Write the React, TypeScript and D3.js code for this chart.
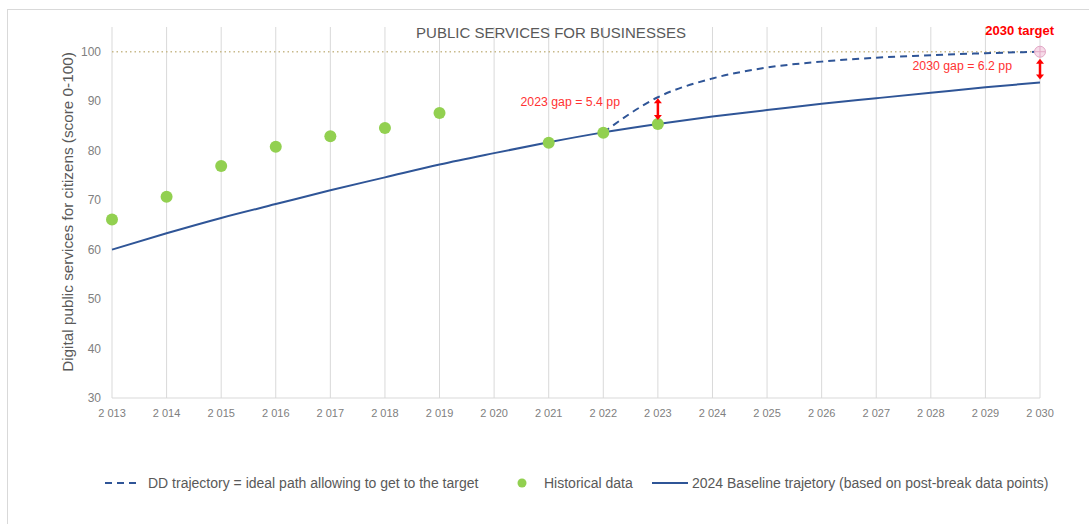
import React from "react";
import * as d3 from "d3";

const years = d3.range(2013, 2031);
const histYears = [2013, 2014, 2015, 2016, 2017, 2018, 2019, 2021, 2022, 2023];
const histValues = [66.1, 70.7, 76.9, 80.8, 82.9, 84.6, 87.6, 81.6, 83.6, 85.4];
const baselineValues = [60, 63.3, 66.4, 69.2, 72.0, 74.6, 77.2, 79.5, 81.7, 83.7, 85.4, 86.9, 88.2, 89.5, 90.6, 91.7, 92.8, 93.8];
const ddYears = [2022, 2023, 2024, 2025, 2026, 2027, 2028, 2029, 2030];
const ddValues = [83.7, 90.8, 94.6, 96.8, 98.0, 98.8, 99.3, 99.7, 100];
const yTicks = [30, 40, 50, 60, 70, 80, 90, 100];
const target = 100;
const targetYear = 2030;
const gapYear = 2023;

const W = 1089;
const H = 524;
const left = 112, right = 1040, top = 27, bottom = 398;

export default function App() {
  const x = d3.scaleLinear().domain([2013, 2030]).range([left, right]);
  const y = d3.scaleLinear().domain([30, 105]).range([bottom, top]);
  const baseLine = d3.line<number>().x((_, i) => x(years[i])).y((d) => y(d)).curve(d3.curveMonotoneX);
  const ddLine = d3.line<number>().x((_, i) => x(ddYears[i])).y((d) => y(d)).curve(d3.curveMonotoneX);
  const fmt = (v: number) => String(v).replace(/^(\d)(\d{3})$/, "$1 $2");
  const red = "#ff0000";
  const blue = "#2f5597";
  const green = "#92d050";
  const font = "'Liberation Sans', Arial, sans-serif";
  const gapBase2023 = baselineValues[years.indexOf(gapYear)];
  const gapDD2023 = ddValues[ddYears.indexOf(gapYear)];
  const base2030 = baselineValues[years.indexOf(targetYear)];

  const arrow = (xx: number, y1: number, y2: number) => {
    const a = Math.min(y1, y2), b = Math.max(y1, y2);
    return (
      <g>
        <line x1={xx} x2={xx} y1={a + 4} y2={b - 4} stroke={red} strokeWidth={2.5} />
        <path d={`M${xx - 4},${a + 5}L${xx},${a}L${xx + 4},${a + 5}Z`} fill={red} />
        <path d={`M${xx - 4},${b - 5}L${xx},${b}L${xx + 4},${b - 5}Z`} fill={red} />
      </g>
    );
  };

  return (
    <svg width={W} height={H} style={{ position: "absolute", left: 0, top: 0, fontFamily: font }}>
      <rect x={0} y={0} width={W} height={H} fill="#fff" />
      <rect x={7.5} y={9.5} width={W + 20} height={H + 20} fill="#fff" stroke="#d9d9d9" />
      {years.map((yr) => (
        <line key={yr} x1={x(yr)} x2={x(yr)} y1={top} y2={bottom} stroke="#d9d9d9" strokeWidth={1} />
      ))}
      <line x1={left} x2={right} y1={bottom} y2={bottom} stroke="#d9d9d9" strokeWidth={1} />
      <line x1={left} x2={right} y1={y(target)} y2={y(target)} stroke="#c8b98a" strokeWidth={1.5} strokeDasharray="1.5 3" />
      {yTicks.map((t) => (
        <text key={t} x={101} y={y(t)} dy="0.35em" textAnchor="end" fontSize={12} fill="#808080">{t}</text>
      ))}
      {years.map((yr) => (
        <text key={yr} x={x(yr)} y={417} textAnchor="middle" fontSize={11} fill="#808080">{fmt(yr)}</text>
      ))}
      <text transform={`translate(73,212) rotate(-90)`} textAnchor="middle" fontSize={15.3} fill="#595959">
        Digital public services for citizens (score 0-100)
      </text>
      <text x={551} y={38} textAnchor="middle" fontSize={15} fill="#595959">PUBLIC SERVICES FOR BUSINESSES</text>
      <path d={baseLine(baselineValues) || ""} fill="none" stroke={blue} strokeWidth={2} />
      <path d={ddLine(ddValues) || ""} fill="none" stroke={blue} strokeWidth={2} strokeDasharray="7 5" />
      {histYears.map((yr, i) => (
        <circle key={yr} cx={x(yr)} cy={y(histValues[i])} r={6} fill={green} />
      ))}
      <circle cx={x(targetYear)} cy={y(target)} r={5.5} fill="#f6dbe8" stroke="#e3a8c6" strokeWidth={1} />
      <line x1={x(targetYear) - 5.5} x2={x(targetYear) + 5.5} y1={y(target)} y2={y(target)} stroke="#e3a8c6" strokeWidth={1} />
      <line x1={x(targetYear)} x2={x(targetYear)} y1={y(target) - 5.5} y2={y(target) + 5.5} stroke="#e3a8c6" strokeWidth={1} />
      {arrow(x(gapYear), y(gapDD2023) + 1, y(gapBase2023) - 4)}
      {arrow(x(targetYear), y(target) + 7, y(base2030) - 3)}
      <text x={620} y={106} textAnchor="end" fontSize={12.3} fill="#ff3333">2023 gap = 5.4 pp</text>
      <text x={1012} y={70} textAnchor="end" fontSize={12.3} fill="#ff3333">2030 gap = 6.2 pp</text>
      <text x={1054} y={35} textAnchor="end" fontSize={13} fontWeight="bold" fill={red}>2030 target</text>
      <g fontSize={14} fill="#595959">
        <line x1={105} x2={141} y1={483} y2={483} stroke={blue} strokeWidth={2} strokeDasharray="7 5" />
        <text x={148} y={483} dy="0.35em">DD trajectory = ideal path allowing to get to the target</text>
        <circle cx={522} cy={483} r={4.5} fill={green} />
        <text x={544} y={483} dy="0.35em">Historical data</text>
        <line x1={652} x2={688} y1={483} y2={483} stroke={blue} strokeWidth={2} />
        <text x={692} y={483} dy="0.35em">2024 Baseline trajetory (based on post-break data points)</text>
      </g>
    </svg>
  );
}
